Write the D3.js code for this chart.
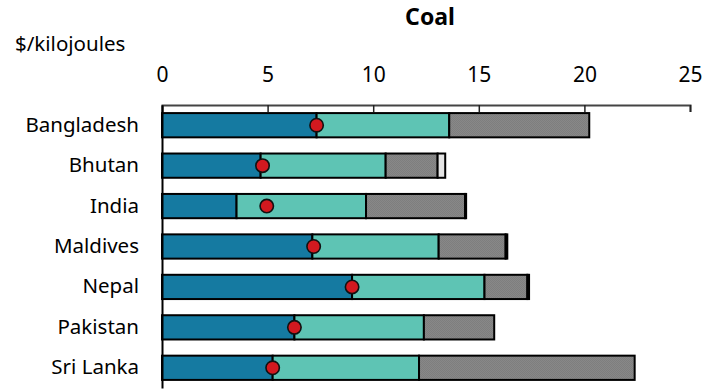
<!DOCTYPE html>
<html>
<head>
<meta charset="utf-8">
<script src="https://cdn.jsdelivr.net/npm/d3@7"></script>
<style>
  html, body { margin: 0; padding: 0; background: #fff; }
  svg { display: block; font-family: "Noto Sans", "Open Sans", sans-serif; }
</style>
</head>
<body>
<svg id="chart" width="705" height="392"></svg>
<script>
// Cost components per country, $/kilojoules
const countries = ["Bangladesh", "Bhutan", "India", "Maldives", "Nepal", "Pakistan", "Sri Lanka"];
const component1 = [7.32, 4.67, 3.53, 7.12, 9.0, 6.27, 5.24];
const component2 = [6.28, 5.92, 6.13, 5.98, 6.27, 6.13, 6.93];
const component3 = [6.63, 2.46, 4.69, 3.17, 2.03, 3.33, 10.21];
const component4 = [0.0, 0.36, 0.05, 0.08, 0.08, 0.0, 0.0];
const markerValues = [7.32, 4.76, 4.96, 7.18, 9.0, 6.27, 5.24];
const tickValues = [0, 5, 10, 15, 20, 25];

const seriesKeys = ["c1", "c2", "c3", "c4"];
const seriesFill = { c1: "#157aa1", c2: "#5ec4b4", c3: "url(#dither)", c4: "#e4e4e4" };

const rows = countries.map((name, i) => ({
  name,
  c1: component1[i], c2: component2[i], c3: component3[i], c4: component4[i],
  marker: markerValues[i]
}));

const svg = d3.select("#chart");
const margin = { left: 162, right: 15, top: 105, bottom: 4 };
const W = 705, H = 392;

// Fine grey dither used for the third component
const defs = svg.append("defs");
const pat = defs.append("pattern").attr("id", "dither")
  .attr("width", 2).attr("height", 2).attr("patternUnits", "userSpaceOnUse");
pat.append("rect").attr("width", 2).attr("height", 2).attr("fill", "#888888");
pat.append("rect").attr("width", 1).attr("height", 1).attr("fill", "#7e7e7e");
pat.append("rect").attr("x", 1).attr("y", 1).attr("width", 1).attr("height", 1).attr("fill", "#7e7e7e");

const x = d3.scaleLinear().domain([0, 25]).range([margin.left, W - margin.right]);
const y = d3.scaleBand().domain(countries)
  .range([margin.top, H - margin.bottom])
  .paddingInner(0.4).paddingOuter(0.2);

const stacked = d3.stack().keys(seriesKeys)(rows);

// Stacked bars
const gBars = svg.append("g");
stacked.forEach(layer => {
  gBars.selectAll(null)
    .data(layer.filter(d => d[1] - d[0] > 0))
    .join("rect")
    .attr("x", d => x(d[0]))
    .attr("y", d => y(d.data.name))
    .attr("width", d => x(d[1]) - x(d[0]))
    .attr("height", y.bandwidth())
    .attr("fill", seriesFill[layer.key])
    .attr("stroke", "#000")
    .attr("stroke-width", 2);
});

// Markers
svg.append("g").selectAll("circle")
  .data(rows)
  .join("circle")
  .attr("cx", d => x(d.marker))
  .attr("cy", d => y(d.name) + y.bandwidth() / 2)
  .attr("r", 6.7)
  .attr("fill", "#d2191f")
  .attr("stroke", "#111")
  .attr("stroke-width", 1.6);

// Top axis with ticks pointing into the plot
const xAxis = d3.axisTop(x).tickValues(tickValues).tickSize(-7).tickPadding(23).tickFormat(d3.format("d"));
const gx = svg.append("g").attr("transform", `translate(0,${margin.top})`).call(xAxis);
gx.select(".domain").attr("stroke", "#444").attr("stroke-width", 2);
gx.selectAll(".tick line").attr("stroke", "#222").attr("stroke-width", 1.5);
gx.selectAll(".tick text").attr("font-size", 21).attr("fill", "#000")
  .style("font-family", "'Noto Sans', sans-serif");

// Left axis: line and category labels
const yAxis = d3.axisLeft(y).tickSize(0).tickPadding(23);
const gy = svg.append("g").attr("transform", `translate(${margin.left},0)`).call(yAxis);
gy.select(".domain").attr("stroke", "#000").attr("stroke-width", 2);
gy.selectAll(".tick text").attr("font-size", 20.5).attr("fill", "#000")
  .style("font-family", "'Noto Sans', sans-serif");

// Title and unit
svg.append("text").attr("x", 430).attr("y", 25).attr("text-anchor", "middle")
  .attr("font-size", 23).attr("font-weight", "bold").text("Coal");
svg.append("text").attr("x", 15).attr("y", 51)
  .attr("font-size", 20.5).text("$/kilojoules");
</script>
</body>
</html>
